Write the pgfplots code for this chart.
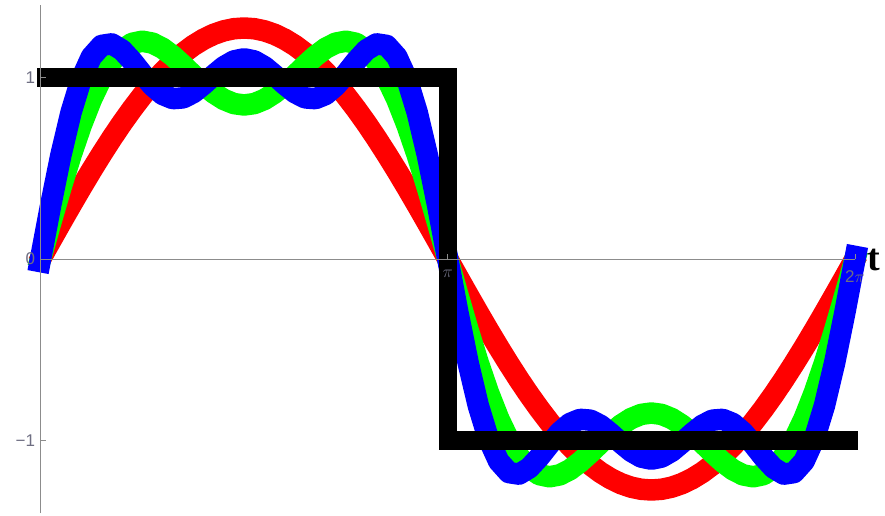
\documentclass[border=0pt]{standalone}
\usepackage{fontspec}
\setmainfont{Liberation Serif}
\setsansfont{Liberation Sans}
\usepackage{pgfplots}
\usepackage{pgfplotstable}
\pgfplotsset{compat=1.18}

\definecolor{axgray}{RGB}{140,140,140}
\definecolor{lblgray}{RGB}{110,110,130}

% Partial Fourier sums of the square wave, x in units of pi
% r: 4/pi sin t, g: up to sin 3t, b: up to sin 5t
\pgfplotstableread{
x       r        g        b
-0.006 -0.0240  -0.0480  -0.0720
0.000   0.0000   0.0000   0.0000
0.025   0.0999   0.1990   0.2964
0.050   0.1992   0.3919   0.5719
0.075   0.2972   0.5729   0.8081
0.100   0.3935   0.7368   0.9915
0.125   0.4873   0.8794   1.1146
0.150   0.5780   0.9972   1.1773
0.175   0.6653   1.0884   1.1858
0.200   0.7484   1.1520   1.1520
0.225   0.8269   1.1888   1.0913
0.250   0.9003   1.2004   1.0204
0.275   0.9682   1.1899   0.9547
0.300   1.0301   1.1612   0.9066
0.325   1.0856   1.1189   0.8837
0.350   1.1345   1.0681   0.8880
0.375   1.1763   1.0139   0.9165
0.400   1.2109   0.9615   0.9615
0.425   1.2381   0.9153   1.0128
0.450   1.2576   0.8794   1.0595
0.475   1.2693   0.8566   1.0919
0.500   1.2732   0.8488   1.1035
0.525   1.2693   0.8566   1.0919
0.550   1.2576   0.8794   1.0595
0.575   1.2381   0.9153   1.0128
0.600   1.2109   0.9615   0.9615
0.625   1.1763   1.0139   0.9165
0.650   1.1345   1.0681   0.8880
0.675   1.0856   1.1189   0.8837
0.700   1.0301   1.1612   0.9066
0.725   0.9682   1.1899   0.9547
0.750   0.9003   1.2004   1.0204
0.775   0.8269   1.1888   1.0913
0.800   0.7484   1.1520   1.1520
0.825   0.6653   1.0884   1.1858
0.850   0.5780   0.9972   1.1773
0.875   0.4873   0.8794   1.1146
0.900   0.3935   0.7368   0.9915
0.925   0.2972   0.5729   0.8081
0.950   0.1992   0.3919   0.5719
0.975   0.0999   0.1990   0.2964
1.000   0.0000   0.0000   0.0000
1.025  -0.0999  -0.1990  -0.2964
1.050  -0.1992  -0.3919  -0.5719
1.075  -0.2972  -0.5729  -0.8081
1.100  -0.3935  -0.7368  -0.9915
1.125  -0.4873  -0.8794  -1.1146
1.150  -0.5780  -0.9972  -1.1773
1.175  -0.6653  -1.0884  -1.1858
1.200  -0.7484  -1.1520  -1.1520
1.225  -0.8269  -1.1888  -1.0913
1.250  -0.9003  -1.2004  -1.0204
1.275  -0.9682  -1.1899  -0.9547
1.300  -1.0301  -1.1612  -0.9066
1.325  -1.0856  -1.1189  -0.8837
1.350  -1.1345  -1.0681  -0.8880
1.375  -1.1763  -1.0139  -0.9165
1.400  -1.2109  -0.9615  -0.9615
1.425  -1.2381  -0.9153  -1.0128
1.450  -1.2576  -0.8794  -1.0595
1.475  -1.2693  -0.8566  -1.0919
1.500  -1.2732  -0.8488  -1.1035
1.525  -1.2693  -0.8566  -1.0919
1.550  -1.2576  -0.8794  -1.0595
1.575  -1.2381  -0.9153  -1.0128
1.600  -1.2109  -0.9615  -0.9615
1.625  -1.1763  -1.0139  -0.9165
1.650  -1.1345  -1.0681  -0.8880
1.675  -1.0856  -1.1189  -0.8837
1.700  -1.0301  -1.1612  -0.9066
1.725  -0.9682  -1.1899  -0.9547
1.750  -0.9003  -1.2004  -1.0204
1.775  -0.8269  -1.1888  -1.0913
1.800  -0.7484  -1.1520  -1.1520
1.825  -0.6653  -1.0884  -1.1858
1.850  -0.5780  -0.9972  -1.1773
1.875  -0.4873  -0.8794  -1.1146
1.900  -0.3935  -0.7368  -0.9915
1.925  -0.2972  -0.5729  -0.8081
1.950  -0.1992  -0.3919  -0.5719
1.975  -0.0999  -0.1990  -0.2964
2.000   0.0000   0.0000   0.0000
2.006   0.0240   0.0480   0.0720
}\fourier

% Square wave
\pgfplotstableread{
x       y
-0.008  1
1.000   1
1.000  -1
2.008  -1
}\square

\begin{document}
\begin{tikzpicture}
\begin{axis}[
  scale only axis,
  width=814.5pt, height=508pt,
  xmin=0, xmax=2, ymin=-1.4, ymax=1.4,
  axis lines=middle,
  axis on top,
  axis line style={-, draw=axgray, line width=1pt},
  clip=false,
  hide obscured x ticks=false,
  hide obscured y ticks=false,
  xtick={1,2}, xticklabels={$\pi$,{\sffamily 2}$\pi$},
  ytick={-1,0,1}, yticklabels={−1,0,1},
  tick align=inside,
  major tick length=5pt,
  tick style={draw=axgray, line width=0.8pt},
  yticklabel style={font=\sffamily\fontsize{17}{17}\selectfont, text=lblgray, xshift=-2pt},
  xticklabel style={font=\fontsize{17}{17}\selectfont, text=lblgray, yshift=-8pt},
  every axis plot/.append style={line join=round},
]
\addplot[red,  line width=21.5pt] table[x=x, y=r] {\fourier};
\addplot[green, line width=21.5pt] table[x=x, y=g] {\fourier};
\addplot[blue, line width=21.5pt] table[x=x, y=b] {\fourier};
\addplot[black, line width=18.5pt, line join=miter] table[x=x, y=y] {\square};
\node[anchor=west, inner sep=0pt, font=\bfseries\fontsize{38}{38}\selectfont]
  at (axis cs:2,0) [xshift=12pt, yshift=-1pt] {t};
\end{axis}
\pgfresetboundingbox
\path[use as bounding box] (-40.5pt,-2pt) rectangle (844.5pt,513pt);
\end{tikzpicture}
\end{document}
